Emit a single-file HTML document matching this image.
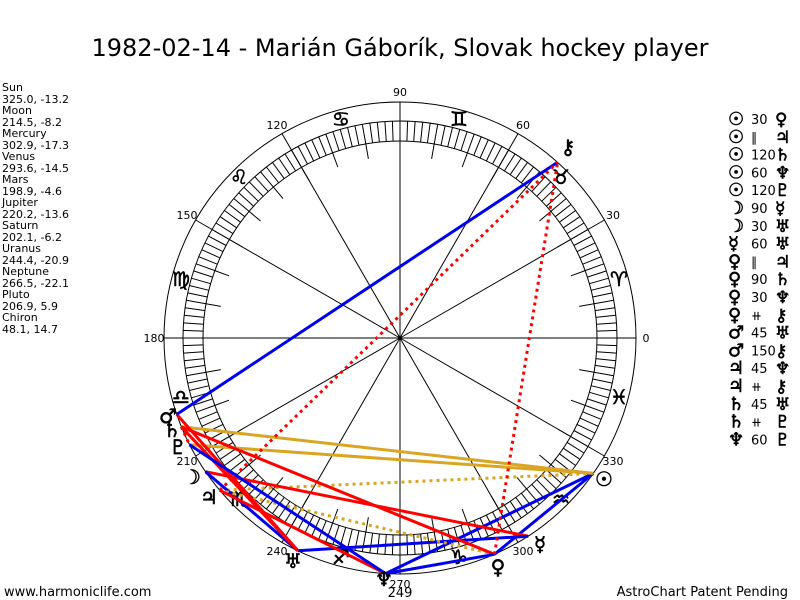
<!DOCTYPE html>
<html><head><meta charset="utf-8"><style>
body{margin:0;background:#fff;width:800px;height:600px;overflow:hidden;font-family:"Liberation Sans","DejaVu Sans",sans-serif}
svg{position:absolute;left:0;top:0}
</style></head><body>
<svg id="s" width="800" height="600" xmlns="http://www.w3.org/2000/svg" font-family="'DejaVu Sans','Liberation Sans',sans-serif">
<text x="400" y="56" font-size="24" text-anchor="middle" font-family="'DejaVu Sans',sans-serif">1982-02-14 - Marián Gáborík, Slovak hockey player</text>
<g font-size="11" font-family="'DejaVu Sans',sans-serif">
<text x="2" y="91">Sun</text><text x="2" y="103">325.0, -13.2</text>
<text x="2" y="114">Moon</text><text x="2" y="126">214.5, -8.2</text>
<text x="2" y="137">Mercury</text><text x="2" y="149">302.9, -17.3</text>
<text x="2" y="160">Venus</text><text x="2" y="172">293.6, -14.5</text>
<text x="2" y="183">Mars</text><text x="2" y="195">198.9, -4.6</text>
<text x="2" y="206">Jupiter</text><text x="2" y="218">220.2, -13.6</text>
<text x="2" y="229">Saturn</text><text x="2" y="241">202.1, -6.2</text>
<text x="2" y="252">Uranus</text><text x="2" y="264">244.4, -20.9</text>
<text x="2" y="275">Neptune</text><text x="2" y="287">266.5, -22.1</text>
<text x="2" y="298">Pluto</text><text x="2" y="310">206.9, 5.9</text>
<text x="2" y="321">Chiron</text><text x="2" y="333">48.1, 14.7</text>
<text x="4" y="596" font-size="13">www.harmoniclife.com</text>
<text x="788" y="596" font-size="13" text-anchor="end">AstroChart Patent Pending</text>
</g>
<g id="g"></g>
</svg>
<script>
var cx=400,cy=338,g=document.getElementById('g'),h='';
function P(a,r){var t=a*Math.PI/180;return [cx+r*Math.cos(t),cy-r*Math.sin(t)];}
function L(a1,r1,a2,r2,c,w,d){var p=P(a1,r1),q=P(a2,r2);h+='<line x1="'+p[0].toFixed(1)+'" y1="'+p[1].toFixed(1)+'" x2="'+q[0].toFixed(1)+'" y2="'+q[1].toFixed(1)+'" stroke="'+c+'" stroke-width="'+w+'"'+(d?' stroke-dasharray="'+d+'"':'')+'/>';}
function T(x,y,s,fs,anch,b){h+='<text x="'+x+'" y="'+y+'" font-size="'+fs+'" text-anchor="'+(anch||'middle')+'"'+(b?' stroke="#000" stroke-width="0.6"':'')+'>'+s+'</text>';}
h+='<circle cx="400" cy="338" r="236" fill="none" stroke="#000" stroke-width="1"/>';
h+='<circle cx="400" cy="338" r="217" fill="none" stroke="#000" stroke-width="1"/>';
h+='<circle cx="400" cy="338" r="197" fill="none" stroke="#000" stroke-width="1"/>';
for(var a=0;a<360;a+=2)L(a,197,a,217,'#000',1);
for(var a=0;a<360;a+=10)L(a,182,a,197,'#000',1);
for(var a=0;a<360;a+=30){L(a,0,a,236,'#000',1);var p=P(a,246);T(p[0].toFixed(0),(p[1]+4).toFixed(0),a,11);}
var zod=['♈','♉','♊','♋','♌','♍','♎','♏','♐','♑','♒','♓'];
for(var i=0;i<12;i++){var p=P(15+30*i,227);T(p[0].toFixed(0),(p[1]+7).toFixed(0),zod[i],20,'middle',1);}
var pl={Su:325,Mo:214.5,Me:302.9,Ve:293.6,Ma:198.9,Ju:220.2,Sa:202.1,Ur:244.4,Ne:266.5,Pl:206.9,Ch:48.1};
var B='#0000ee',R='#ff0000',G='#daa520';
var asp=[['Su','Ve',B,''],['Su','Ju',G,'3,4'],['Su','Sa',G,''],['Su','Ne',B,''],['Su','Pl',G,''],['Mo','Me',R,''],['Mo','Ur',B,''],['Me','Ur',B,''],['Ve','Ju',G,'3,4'],['Ve','Sa',R,''],['Ve','Ne',B,''],['Ve','Ch',R,'3,4'],['Ma','Ur',R,''],['Ma','Ch',B,''],['Ju','Ne',R,''],['Ju','Ch',R,'3,4'],['Sa','Ur',R,''],['Sa','Pl',R,'3,4'],['Ne','Pl',B,'']];
asp.forEach(function(x){L(pl[x[0]],236,pl[x[1]],236,x[2],3,x[3]);});
h+='<circle cx="400" cy="338" r="2" fill="#000"/>';
var gl=[[568,154,'⚷'],[604,486,'☉'],[168,423,'♂'],[172,437,'♄'],[178,454,'♇'],[192,484,'☽'],[209,504,'♃'],[293,568,'♅'],[384,586,'♆'],[498,574,'♀'],[540,551,'☿']];
gl.forEach(function(x){T(x[0],x[1],x[2],20,'middle',1);});
T(400,597,'249',13);
var ay=124,al=[['☉','30','♀'],['☉','∥','♃'],['☉','120','♄'],['☉','60','♆'],['☉','120','♇'],['☽','90','☿'],['☽','30','♅'],['☿','60','♅'],['♀','∥','♃'],['♀','90','♄'],['♀','30','♆'],['♀','⧺','⚷'],['♂','45','♅'],['♂','150','⚷'],['♃','45','♆'],['♃','⧺','⚷'],['♄','45','♅'],['♄','⧺','♇'],['♆','60','♇']];
al.forEach(function(x,i){var y=ay+i*17.8;T(728,y+1,x[0],18,'start',1);T(751,y,x[1],13,'start');T(775,y+1,x[2],17,'start',1);});
g.innerHTML=h;
</script>
</body></html>
